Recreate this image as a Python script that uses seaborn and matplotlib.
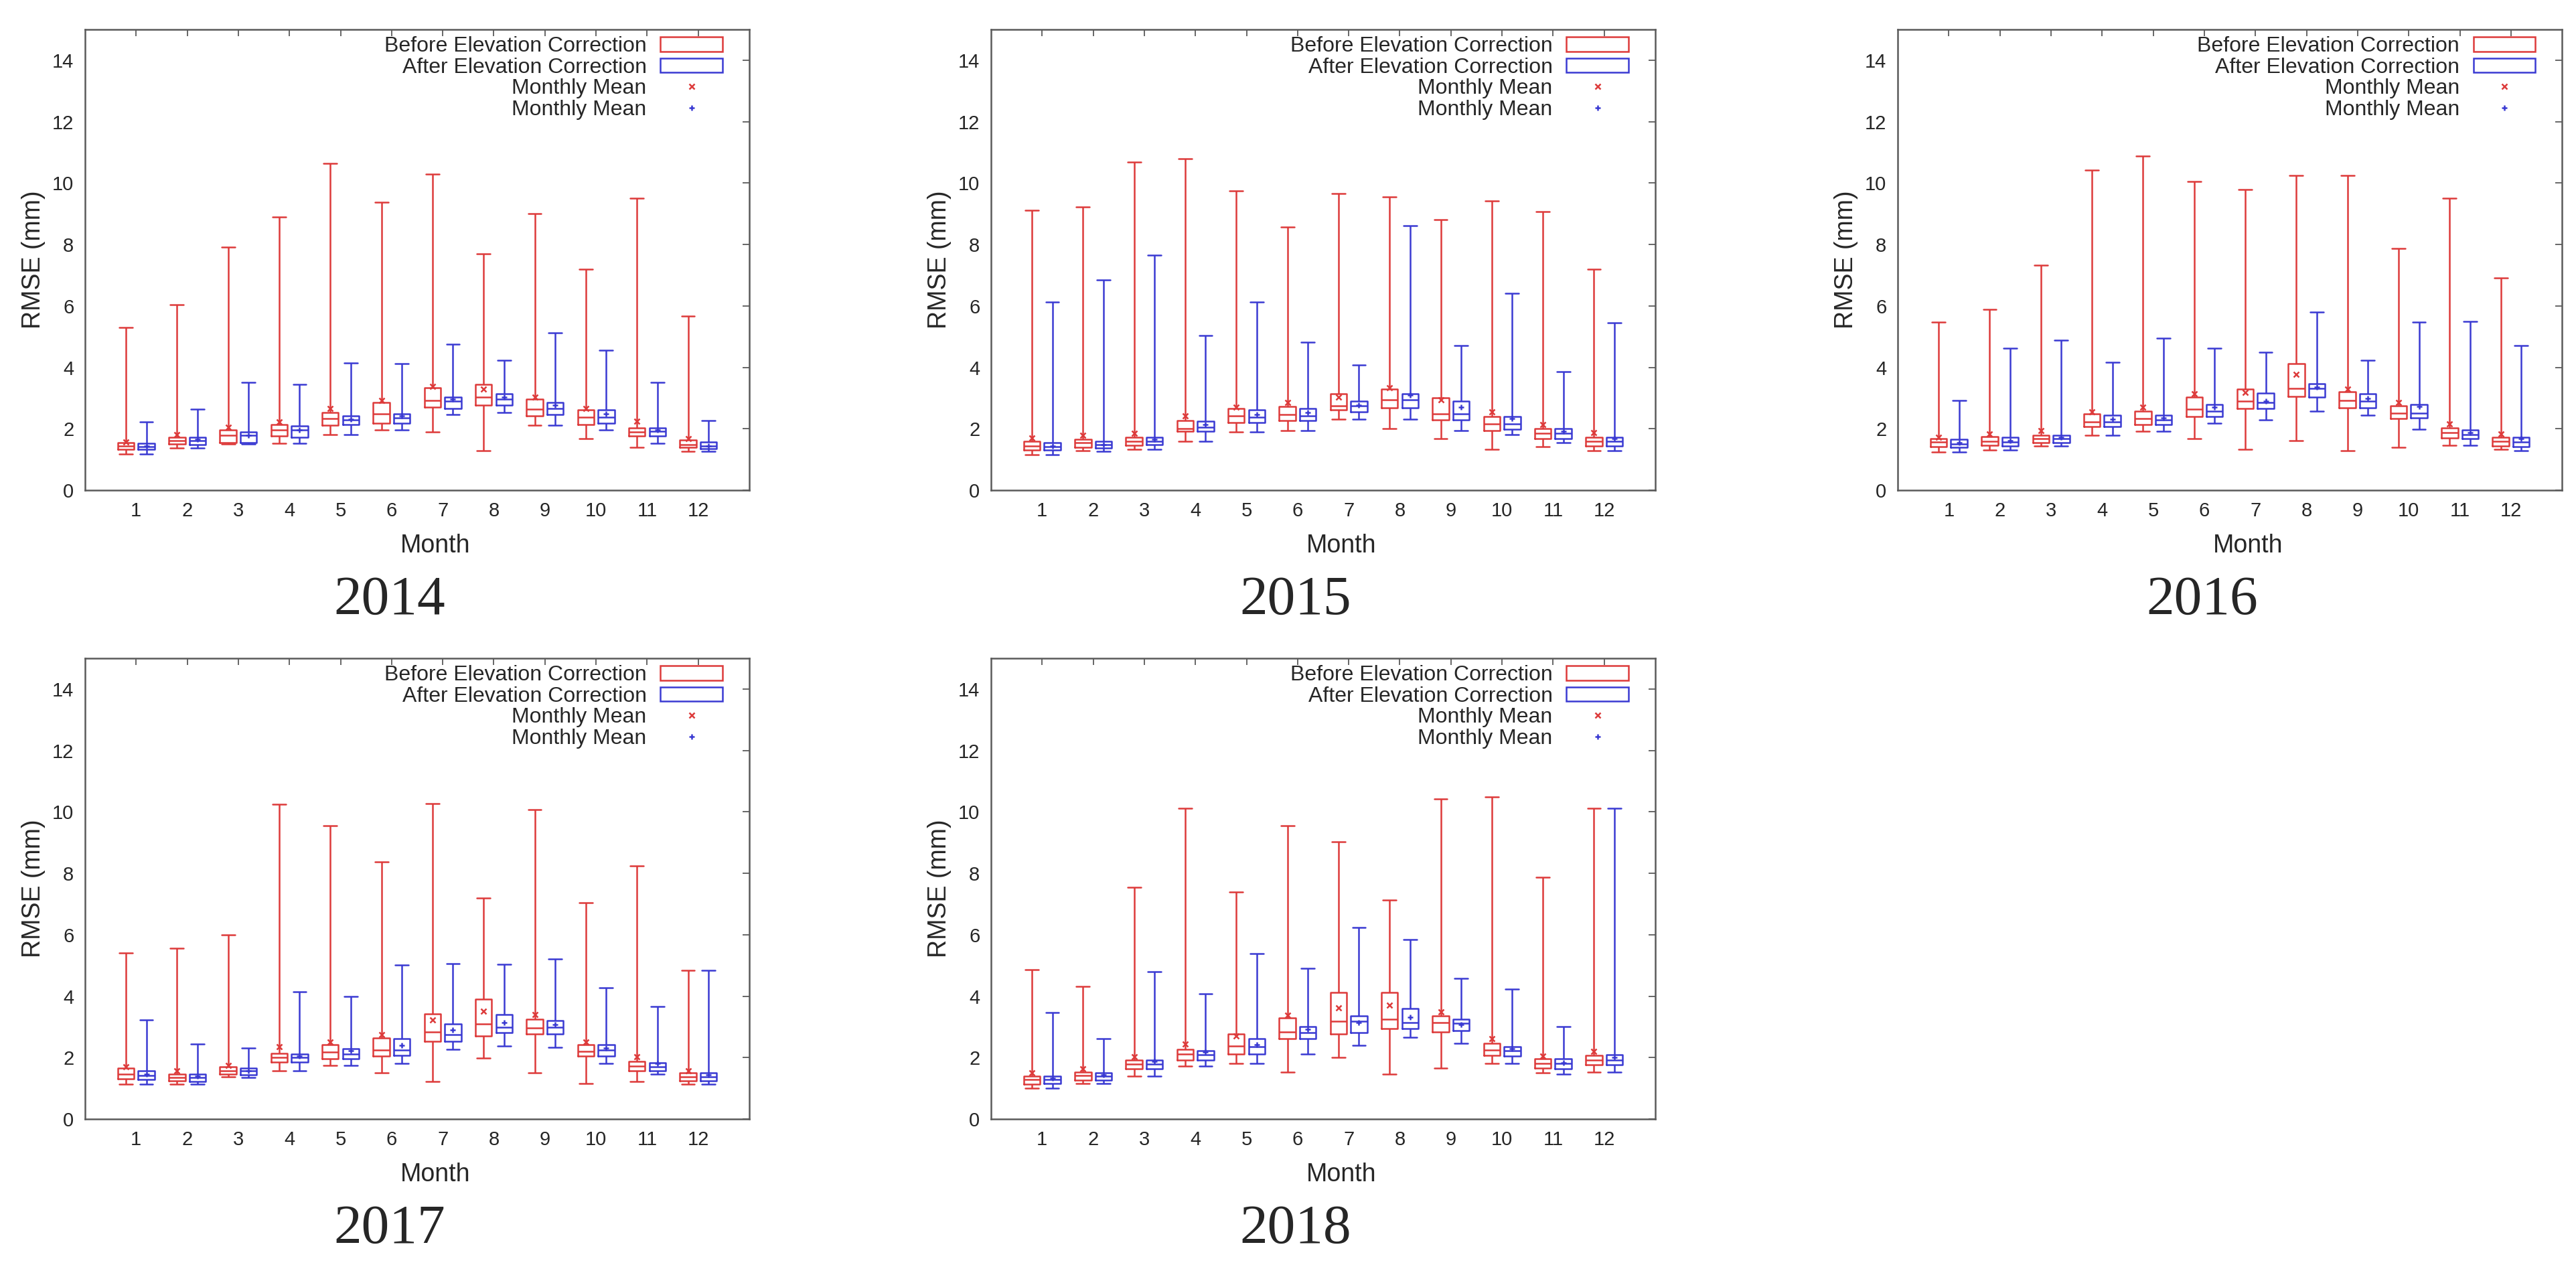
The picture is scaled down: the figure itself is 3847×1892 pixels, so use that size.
import matplotlib
matplotlib.use("Agg")
import matplotlib.pyplot as plt
from matplotlib.patches import Patch
from matplotlib.lines import Line2D
import pandas as pd
import seaborn as sns

months = list(range(1, 13))
years = [2014, 2015, 2016, 2017, 2018]
conditions = ["Before Elevation Correction", "After Elevation Correction"]

# one row per month: whisker low, q1, median, q3, whisker high, monthly mean
before_2014 = [(1.18, 1.33, 1.44, 1.55, 5.29, 1.58), (1.37, 1.51, 1.62, 1.73, 6.05, 1.80),
               (1.50, 1.55, 1.79, 1.96, 7.91, 2.04), (1.53, 1.77, 1.96, 2.14, 8.90, 2.22),
               (1.82, 2.11, 2.33, 2.54, 10.65, 2.67), (1.96, 2.18, 2.49, 2.86, 9.38, 2.93),
               (1.89, 2.71, 2.93, 3.33, 10.30, 3.37), (1.29, 2.78, 3.04, 3.45, 7.69, 3.29),
               (2.11, 2.43, 2.64, 2.97, 9.00, 3.04), (1.67, 2.13, 2.38, 2.62, 7.20, 2.67),
               (1.40, 1.77, 1.89, 2.02, 9.50, 2.24), (1.26, 1.39, 1.48, 1.64, 5.68, 1.69)]
after_2014 = [(1.18, 1.32, 1.42, 1.53, 2.22, 1.44), (1.37, 1.48, 1.61, 1.72, 2.64, 1.66),
              (1.50, 1.55, 1.79, 1.89, 3.51, 1.79), (1.53, 1.73, 1.96, 2.09, 3.44, 1.96),
              (1.82, 2.13, 2.29, 2.43, 4.14, 2.31), (1.96, 2.18, 2.35, 2.49, 4.13, 2.41),
              (2.47, 2.66, 2.89, 3.04, 4.75, 2.97), (2.53, 2.77, 2.97, 3.15, 4.24, 3.04),
              (2.11, 2.46, 2.67, 2.86, 5.13, 2.77), (1.96, 2.18, 2.38, 2.62, 4.56, 2.49),
              (1.53, 1.77, 1.91, 2.02, 3.51, 1.97), (1.26, 1.35, 1.44, 1.58, 2.27, 1.44)]

before_2015 = [(1.16, 1.31, 1.44, 1.60, 9.12, 1.70), (1.29, 1.39, 1.55, 1.65, 9.23, 1.78),
               (1.34, 1.47, 1.60, 1.72, 10.69, 1.86), (1.60, 1.91, 2.01, 2.27, 10.80, 2.42),
               (1.89, 2.20, 2.42, 2.66, 9.74, 2.71), (1.94, 2.27, 2.47, 2.73, 8.56, 2.86),
               (2.32, 2.61, 2.75, 3.14, 9.66, 3.04), (2.01, 2.68, 2.94, 3.30, 9.56, 3.33),
               (1.68, 2.30, 2.49, 3.01, 8.81, 2.94), (1.32, 1.94, 2.16, 2.39, 9.41, 2.56),
               (1.42, 1.68, 1.86, 2.01, 9.07, 2.13), (1.29, 1.44, 1.60, 1.72, 7.20, 1.88)]
after_2015 = [(1.16, 1.31, 1.41, 1.55, 6.13, 1.44), (1.27, 1.37, 1.49, 1.60, 6.84, 1.49),
              (1.34, 1.49, 1.60, 1.72, 7.66, 1.65), (1.60, 1.91, 2.06, 2.24, 5.04, 2.13),
              (1.89, 2.20, 2.37, 2.61, 6.13, 2.47), (1.94, 2.27, 2.42, 2.66, 4.81, 2.53),
              (2.32, 2.56, 2.75, 2.91, 4.07, 2.78), (2.32, 2.68, 2.94, 3.14, 8.61, 3.09),
              (1.94, 2.30, 2.49, 2.91, 4.72, 2.71), (1.80, 1.99, 2.16, 2.39, 6.42, 2.34),
              (1.55, 1.68, 1.86, 2.01, 3.87, 1.93), (1.29, 1.44, 1.60, 1.72, 5.46, 1.68)]

before_2016 = [(1.24, 1.41, 1.57, 1.67, 5.48, 1.72), (1.31, 1.46, 1.59, 1.74, 5.89, 1.84),
               (1.43, 1.54, 1.67, 1.79, 7.33, 1.95), (1.79, 2.08, 2.23, 2.49, 10.42, 2.56),
               (1.91, 2.13, 2.34, 2.57, 10.87, 2.70), (1.67, 2.39, 2.63, 3.04, 10.06, 3.14),
               (1.34, 2.65, 2.90, 3.29, 9.80, 3.18), (1.62, 3.06, 3.32, 4.12, 10.24, 3.78),
               (1.29, 2.68, 2.92, 3.21, 10.24, 3.29), (1.39, 2.34, 2.51, 2.75, 7.87, 2.85),
               (1.46, 1.70, 1.87, 2.03, 9.50, 2.15), (1.33, 1.44, 1.59, 1.72, 6.92, 1.84)]
after_2016 = [(1.24, 1.39, 1.51, 1.65, 2.92, 1.54), (1.31, 1.44, 1.57, 1.72, 4.63, 1.62),
              (1.43, 1.54, 1.67, 1.79, 4.89, 1.72), (1.79, 2.08, 2.23, 2.44, 4.17, 2.31),
              (1.91, 2.13, 2.29, 2.44, 4.94, 2.36), (2.18, 2.39, 2.57, 2.80, 4.63, 2.70),
              (2.29, 2.67, 2.85, 3.16, 4.50, 2.90), (2.57, 3.04, 3.32, 3.47, 5.79, 3.35),
              (2.44, 2.68, 2.90, 3.14, 4.24, 2.98), (1.98, 2.36, 2.51, 2.80, 5.48, 2.73),
              (1.46, 1.67, 1.82, 1.96, 5.50, 1.87), (1.29, 1.41, 1.57, 1.72, 4.71, 1.67)]

before_2017 = [(1.14, 1.30, 1.47, 1.65, 5.41, 1.71), (1.14, 1.25, 1.35, 1.47, 5.57, 1.58),
               (1.37, 1.47, 1.58, 1.70, 6.00, 1.75), (1.58, 1.86, 2.01, 2.14, 10.25, 2.35),
               (1.75, 1.96, 2.17, 2.42, 9.56, 2.50), (1.50, 2.06, 2.25, 2.63, 8.37, 2.74),
               (1.22, 2.53, 2.83, 3.43, 10.28, 3.22), (1.99, 2.71, 3.09, 3.91, 7.19, 3.51),
               (1.50, 2.76, 2.97, 3.25, 10.07, 3.41), (1.16, 2.04, 2.21, 2.42, 7.05, 2.50),
               (1.22, 1.58, 1.73, 1.88, 8.24, 2.02), (1.14, 1.25, 1.37, 1.50, 4.85, 1.58)]
after_2017 = [(1.14, 1.29, 1.42, 1.58, 3.22, 1.47), (1.14, 1.22, 1.35, 1.47, 2.45, 1.39),
              (1.35, 1.45, 1.56, 1.65, 2.32, 1.58), (1.58, 1.86, 2.01, 2.12, 4.15, 2.06),
              (1.75, 1.97, 2.11, 2.30, 4.00, 2.22), (1.80, 2.07, 2.25, 2.61, 5.01, 2.40),
              (2.27, 2.53, 2.74, 3.09, 5.06, 2.91), (2.37, 2.81, 2.99, 3.41, 5.03, 3.15),
              (2.33, 2.76, 2.99, 3.20, 5.21, 3.07), (1.80, 2.04, 2.25, 2.42, 4.27, 2.32),
              (1.47, 1.56, 1.71, 1.83, 3.67, 1.81), (1.14, 1.25, 1.37, 1.50, 4.85, 1.45)]

before_2018 = [(1.01, 1.14, 1.29, 1.39, 4.87, 1.50), (1.16, 1.27, 1.42, 1.52, 4.31, 1.63),
               (1.39, 1.63, 1.78, 1.91, 7.54, 2.02), (1.73, 1.91, 2.11, 2.27, 10.11, 2.45),
               (1.80, 2.12, 2.37, 2.78, 7.40, 2.71), (1.53, 2.61, 2.84, 3.30, 9.55, 3.38),
               (2.01, 2.78, 3.19, 4.12, 9.02, 3.61), (1.47, 2.95, 3.25, 4.13, 7.14, 3.71),
               (1.65, 2.84, 3.14, 3.35, 10.42, 3.48), (1.80, 2.07, 2.25, 2.47, 10.49, 2.61),
               (1.50, 1.65, 1.80, 1.96, 7.87, 2.06), (1.53, 1.76, 1.91, 2.07, 10.11, 2.20)]
after_2018 = [(1.01, 1.16, 1.29, 1.39, 3.46, 1.32), (1.16, 1.27, 1.39, 1.50, 2.61, 1.45),
              (1.39, 1.63, 1.78, 1.91, 4.80, 1.87), (1.73, 1.92, 2.09, 2.23, 4.08, 2.18),
              (1.80, 2.12, 2.35, 2.61, 5.39, 2.42), (2.11, 2.61, 2.81, 3.00, 4.90, 2.92),
              (2.40, 2.81, 3.18, 3.35, 6.24, 3.15), (2.66, 2.95, 3.14, 3.59, 5.84, 3.31),
              (2.47, 2.87, 3.12, 3.26, 4.57, 3.07), (1.80, 2.06, 2.22, 2.35, 4.23, 2.30),
              (1.47, 1.63, 1.80, 1.96, 3.00, 1.84), (1.53, 1.76, 1.91, 2.09, 10.11, 2.01)]

tables = {2014: (before_2014, after_2014), 2015: (before_2015, after_2015),
          2016: (before_2016, after_2016), 2017: (before_2017, after_2017),
          2018: (before_2018, after_2018)}

RED = "#dd3a3a"
BLUE = "#3a3ad2"
FRAME = "#5a5a5a"
palette = {conditions[0]: RED, conditions[1]: BLUE}

sns.set_style("white")
plt.rcParams["font.family"] = ["Liberation Sans", "DejaVu Sans"]


def box_frame(year):
    # five summary values per box; with whis=(0, 100) seaborn reproduces them exactly
    rows = []
    for cond, table in zip(conditions, tables[year]):
        for m, rec in zip(months, table):
            for v in rec[:5]:
                rows.append({"month": m, "cond": cond, "rmse": v})
    return pd.DataFrame(rows)


def mean_frame(year):
    rows = []
    for cond, table in zip(conditions, tables[year]):
        for m, rec in zip(months, table):
            rows.append({"month": m, "cond": cond, "mean": rec[5]})
    return pd.DataFrame(rows)


fig = plt.figure(figsize=(38.47, 18.92), dpi=100)
W, H = 0.2579, 0.3636
slots = [(0.0330, 0.6131), (0.3847, 0.6131), (0.7367, 0.6131),
         (0.0330, 0.1168), (0.3847, 0.1168)]

for year, (left, bottom) in zip(years, slots):
    ax = fig.add_axes([left, bottom, W, H])
    sns.boxplot(data=box_frame(year), x="month", y="rmse", hue="cond",
                hue_order=conditions, order=months, palette=palette,
                fill=False, whis=(0, 100), width=0.8, gap=0.2, linewidth=1.8,
                showfliers=False, legend=False, ax=ax)

    # gnuplot style caps are almost as wide as the box
    for ln in ax.lines:
        xd, yd = ln.get_xdata(), ln.get_ydata()
        if len(xd) == 2 and yd[0] == yd[1] and abs(xd[1] - xd[0]) < 0.2:
            c = (xd[0] + xd[1]) / 2
            ln.set_xdata([c - 0.13, c + 0.13])

    sns.pointplot(data=mean_frame(year), x="month", y="mean", hue="cond",
                  hue_order=conditions, order=months, palette=palette,
                  markers=["x", "+"], linestyles="none", dodge=0.4,
                  errorbar=None, markersize=6, markeredgewidth=1.8,
                  legend=False, ax=ax)

    ax.set_xlim(-1, 12)
    ax.set_ylim(0, 15)
    ax.set_yticks(range(0, 15, 2))
    ax.set_xticks(range(12))
    ax.set_xticklabels(months)

    for sp in ax.spines.values():
        sp.set_color(FRAME)
        sp.set_linewidth(1.8)
    ax.tick_params(direction="in", top=True, right=True, length=7, width=1.3,
                   color=FRAME, labelsize=21, pad=12)

    ax.set_xlabel("Month", fontsize=27)
    ax.xaxis.label.set_va("center")
    ax.xaxis.set_label_coords(0.527, -0.121)
    ax.set_ylabel("RMSE (mm)", fontsize=27)
    ax.yaxis.label.set_va("center")
    ax.yaxis.set_label_coords(-0.078, 0.5)

    handles = [Patch(facecolor="none", edgecolor=RED, linewidth=1.8),
               Patch(facecolor="none", edgecolor=BLUE, linewidth=1.8),
               Line2D([], [], linestyle="none", marker="x", color=RED, ms=6, mew=1.8),
               Line2D([], [], linestyle="none", marker="+", color=BLUE, ms=6, mew=1.8)]
    labels = conditions + ["Monthly Mean", "Monthly Mean"]
    ax.legend(handles, labels, loc="upper right",
              bbox_to_anchor=(1 - 40 / 992, 1 - 10 / 688), frameon=False,
              markerfirst=False, fontsize=23, handlelength=2.9, handleheight=0.65,
              handletextpad=0.65, labelspacing=0.05, borderpad=0, borderaxespad=0)

    ax.text(0.458, -0.240, str(year), transform=ax.transAxes, ha="center",
            va="center", fontsize=60, family=["Liberation Serif", "DejaVu Serif"])

fig.savefig("out.png", dpi=100)
